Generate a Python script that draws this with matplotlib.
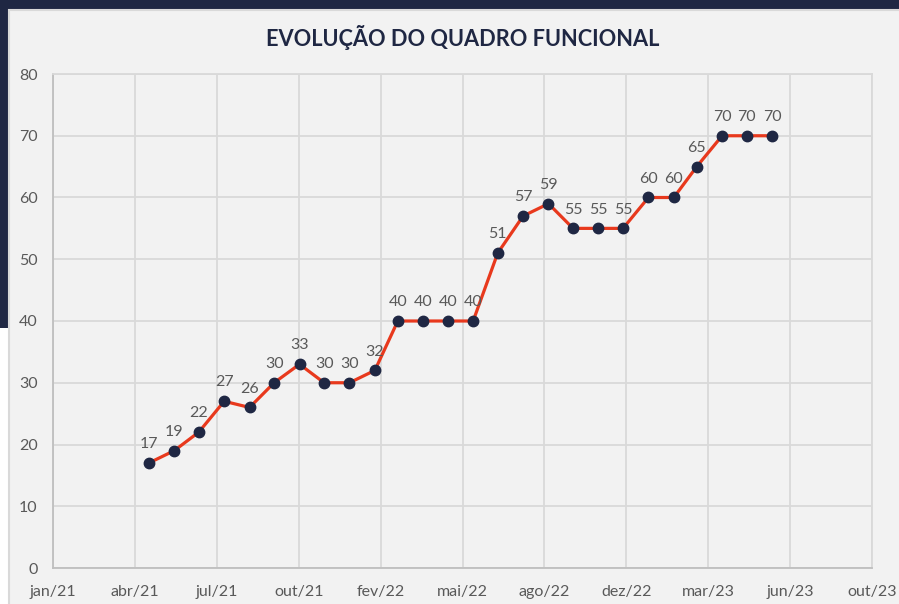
import numpy as np
import pandas as pd
import matplotlib.pyplot as plt
from matplotlib.patches import Rectangle

# data
months = ["2021-05", "2021-06", "2021-07", "2021-08", "2021-09", "2021-10",
          "2021-11", "2021-12", "2022-01", "2022-02", "2022-03", "2022-04",
          "2022-05", "2022-06", "2022-07", "2022-08", "2022-09", "2022-10",
          "2022-11", "2022-12", "2023-01", "2023-02", "2023-03", "2023-04",
          "2023-05", "2023-06"]
headcount = [17, 19, 22, 27, 26, 30, 33, 30, 30, 32, 40, 40,
             40, 40, 51, 57, 59, 55, 55, 55, 60, 60, 65, 70,
             70, 70]
tick_labels = ["jan/21", "abr/21", "jul/21", "out/21", "fev/22", "mai/22",
               "ago/22", "dez/22", "mar/23", "jun/23", "out/23"]
y_ticks = [0, 10, 20, 30, 40, 50, 60, 70, 80]

axis_start = pd.Timestamp("2021-01-04")
major_unit = 100  # days, like the excel date axis

navy = "#1f2743"
red = "#e8391d"
grey_txt = "#595959"
grid_c = "#d9d9d9"
font = "Lato"

x = np.array([(pd.Timestamp(m + "-01") - axis_start).days for m in months])

fig = plt.figure(figsize=(8.99, 6.04), dpi=100)
fig.patch.set_facecolor("white")

# screenshot frame: navy band + light panel
fig.patches.append(Rectangle((0, 1 - 9 / 604), 1, 9 / 604, transform=fig.transFigure,
                             facecolor=navy, edgecolor="none", zorder=-2))
fig.patches.append(Rectangle((0, 1 - 328 / 604), 8 / 899, 328 / 604, transform=fig.transFigure,
                             facecolor=navy, edgecolor="none", zorder=-2))
fig.patches.append(Rectangle((8.5 / 899, -0.01), 1.0, 1 - 9.5 / 604 + 0.01, transform=fig.transFigure,
                             facecolor="#f2f2f2", edgecolor=grid_c, linewidth=1.5, zorder=-1))

ax = fig.add_axes([53 / 899, 1 - 568 / 604, (872 - 53) / 899, (568 - 74) / 604])
ax.set_facecolor("#f2f2f2")
ax.set_zorder(1)

ax.plot(x, headcount, color=red, linewidth=2.3, zorder=3)
ax.plot(x, headcount, "o", color=navy, markersize=7.5, zorder=4)

for xi, v in zip(x, headcount):
    ax.annotate(str(v), (xi, v), xytext=(0, 8.5), textcoords="offset points",
                ha="center", va="bottom", fontsize=11.5, color=grey_txt, family=font)

ax.set_xlim(0, major_unit * (len(tick_labels) - 1))
ax.set_ylim(0, 80)
ax.set_xticks(np.arange(len(tick_labels)) * major_unit)
ax.set_xticklabels(tick_labels, fontsize=11.5, color=grey_txt, family=font)
ax.set_yticks(y_ticks)
ax.set_yticklabels([str(t) for t in y_ticks], fontsize=11.5, color=grey_txt, family=font)
ax.tick_params(length=0)
ax.tick_params(axis="x", pad=12)
ax.tick_params(axis="y", pad=11)

ax.grid(True, color=grid_c, linewidth=1.3)
ax.set_axisbelow(True)
for s in ax.spines.values():
    s.set_color(grid_c)
    s.set_linewidth(1.3)
ax.spines["left"].set_color("#bfbfbf")
ax.spines["bottom"].set_color("#bfbfbf")

fig.text(463 / 899, 1 - 38 / 604, "EVOLUÇÃO DO QUADRO FUNCIONAL", ha="center", va="center",
         fontsize=15.7, fontweight="bold", color=navy, family=font)

fig.savefig("out.png", dpi=100)
